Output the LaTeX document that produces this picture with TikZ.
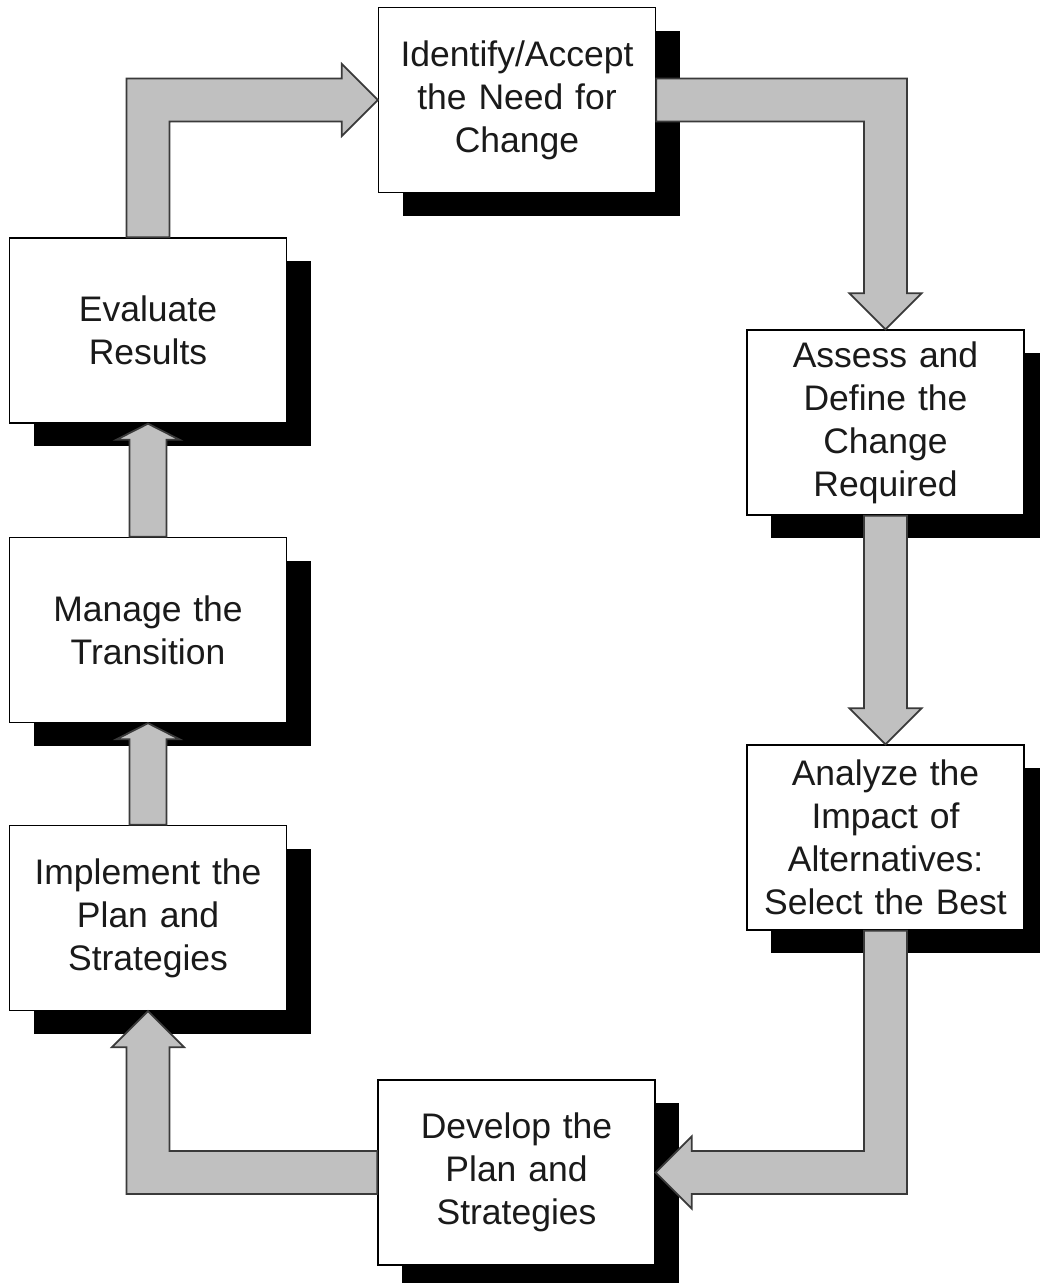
\documentclass[tikz,border=0pt]{standalone}
\usepackage{fontspec}
\setmainfont{Liberation Sans}
\usetikzlibrary{calc,shadows}
\definecolor{arrowfill}{HTML}{C0C0C0}
\definecolor{arrowline}{HTML}{3A3A3A}
\definecolor{txt}{HTML}{1A1A1A}
\tikzset{
  stepbox/.style={draw=black, line width=1.4pt, fill=white, minimum width=277pt, minimum height=185pt,
    inner sep=0pt, align=center, text width=270pt, text=txt,
    font=\fontsize{35.5}{43}\selectfont,
    drop shadow={shadow xshift=24pt, shadow yshift=-23pt, fill=black, opacity=1}},
  bigarrow/.style={fill=arrowfill, draw=arrowline, line width=1.8pt, line join=miter}
}
\begin{document}
\begin{tikzpicture}[x=1pt,y=-1pt]
\useasboundingbox[fill=white] (0,0) rectangle (1040,1283);
\node[stepbox] (id) at (517,100) {Identify/Accept\\the Need for\\Change};
\node[stepbox] (ev) at (148,330.5) {Evaluate\\Results};
\node[stepbox] (as) at (885.5,422.5) {Assess and\\Define the\\Change\\Required};
\node[stepbox] (an) at (885.5,837.5) {Analyze the\\Impact of\\Alternatives:\\Select the Best};
\node[stepbox] (dv) at (516.5,1172.5) {Develop the\\Plan and\\Strategies};
\node[stepbox] (mg) at (148,630) {Manage the\\Transition};
\node[stepbox] (im) at (148,918) {Implement the\\Plan and\\Strategies};
% Evaluate -> Identify
\draw[bigarrow] ($(ev.north)+(-21.5,0)$) |- ($(id.west)+(-36,-21.5)$) -- ++(0,-14.5) -- (id.west)
  -- ($(id.west)+(-36,36)$) -- ++(0,-14.5) -| ($(ev.north)+(21.5,0)$) -- cycle;
% Identify -> Assess
\draw[bigarrow] ($(id.east)+(0,-21.5)$) -| ($(as.north)+(21.5,-36)$) -- ++(14.5,0) -- (as.north)
  -- ($(as.north)+(-36,-36)$) -- ++(14.5,0) |- ($(id.east)+(0,21.5)$) -- cycle;
% Assess -> Analyze
\draw[bigarrow] ($(as.south)+(-21.5,0)$) -- ($(an.north)+(-21.5,-36)$) -- ++(-14.5,0) -- (an.north)
  -- ($(an.north)+(36,-36)$) -- ++(-14.5,0) -- ($(as.south)+(21.5,0)$) -- cycle;
% Analyze -> Develop
\draw[bigarrow] ($(an.south)+(21.5,0)$) |- ($(dv.east)+(36,21.5)$) -- ++(0,14.5) -- (dv.east)
  -- ($(dv.east)+(36,-36)$) -- ++(0,14.5) -| ($(an.south)+(-21.5,0)$) -- cycle;
% Develop -> Implement
\draw[bigarrow] ($(dv.west)+(0,21.5)$) -| ($(im.south)+(-21.5,36)$) -- ++(-14.5,0) -- (im.south)
  -- ($(im.south)+(36,36)$) -- ++(-14.5,0) |- ($(dv.west)+(0,-21.5)$) -- cycle;
% Implement -> Manage
\draw[bigarrow] ($(im.north)+(-18.5,0)$) -- ($(mg.south)+(-18.5,16)$) -- ++(-13,0) -- (mg.south)
  -- ($(mg.south)+(31.5,16)$) -- ++(-13,0) -- ($(im.north)+(18.5,0)$) -- cycle;
% Manage -> Evaluate
\draw[bigarrow] ($(mg.north)+(-18.5,0)$) -- ($(ev.south)+(-18.5,16)$) -- ++(-13,0) -- (ev.south)
  -- ($(ev.south)+(31.5,16)$) -- ++(-13,0) -- ($(mg.north)+(18.5,0)$) -- cycle;
\end{tikzpicture}
\end{document}
